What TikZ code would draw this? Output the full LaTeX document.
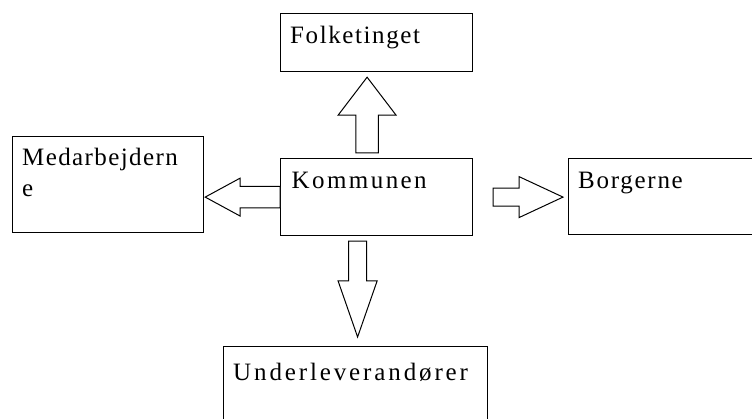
\documentclass[tikz,border=0pt]{standalone}
\usepackage{fontspec}
\setmainfont{Liberation Serif}
\usetikzlibrary{positioning, calc}
\tikzset{
  box/.style={rectangle, draw=black, line width=1.2pt, inner sep=0pt, anchor=north west},
  boxtext/.style={anchor=base west, inner sep=0pt, align=left,
    font=\fontsize{25}{30.7}\selectfont\addfontfeature{LetterSpace=#1}},
  blockarrow/.style n args={3}{draw=black, line width=1pt, fill=white,
    to path={let \p1=(\tikztostart), \p2=(\tikztotarget),
      \n1={atan2(\y2-\y1,\x2-\x1)}, \n2={veclen(\x2-\x1,\y2-\y1)} in
      ([shift={(\p1)},rotate=\n1]0,#1)
      -- ([shift={(\p1)},rotate=\n1]\n2-#3,#1)
      -- ([shift={(\p1)},rotate=\n1]\n2-#3,#2)
      -- ([shift={(\p1)},rotate=\n1]\n2,0)
      -- ([shift={(\p1)},rotate=\n1]\n2-#3,-#2)
      -- ([shift={(\p1)},rotate=\n1]\n2-#3,-#1)
      -- ([shift={(\p1)},rotate=\n1]0,-#1) -- cycle}}
}

\begin{document}
\begin{tikzpicture}[x=1pt, y=-1pt]
    \useasboundingbox (0,0) rectangle (752,419);
    % boxes
    \node[box, minimum width=192pt, minimum height=58pt] (folk) at (280,13) {};
    \node[box, minimum width=192pt, minimum height=77pt] (kom) at (280,158) {};
    \node[box, minimum width=191pt, minimum height=96pt] (medarb) at (12,136) {};
    \node[box, minimum width=200pt, minimum height=76pt] (borg) at (568,158) {};
    \node[box, minimum width=264pt, minimum height=100pt] (under) at (223,346) {};
    % texts (base anchor sits on the last line)
    \node[boxtext=6.4] (folktxt) at ($(folk.north west)+(10,30.5)$) {Folketinget};
    \node[boxtext=9.7] (komtxt) at ($(kom.north west)+(11.5,30.5)$) {Kommunen};
    \node[boxtext=5.6] (medarbtxt) at ($(medarb.north west)+(10,60.7)$) {Medarbejdern\\e};
    \node[boxtext=6.9] (borgtxt) at ($(borg.north west)+(10,30.5)$) {Borgerne};
    \node[boxtext=11.5] (undertxt) at ($(under.north west)+(10,35)$) {Underleverandører};
    % arrows
    \draw[blockarrow={11.3}{29}{38}] ($(kom.north)+(-9.5,-5)$) to ($(folk.south)+(-9.5,5)$);
    \draw[blockarrow={10.7}{19}{35}] (kom.west) to ($(medarb.east)+(1,12.5)$);
    \draw[blockarrow={9}{20.5}{44}] ($(kom.east)+(20,0)$) to ($(borg.west)+(-5,0.5)$);
    \draw[blockarrow={9}{19.5}{56}] ($(kom.south)+(-19,5)$) to ($(under.north)+(2,-9)$);
\end{tikzpicture}
\end{document}
